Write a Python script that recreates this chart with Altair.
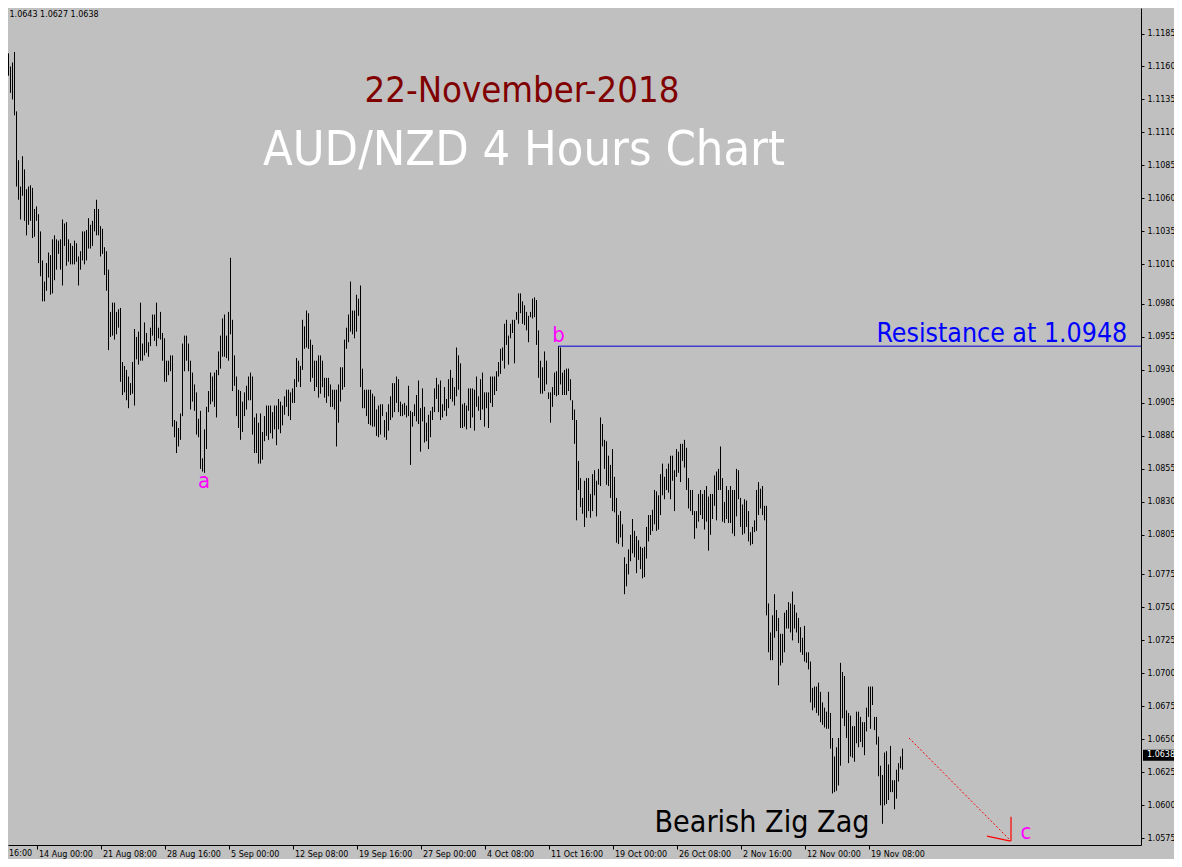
import json
import altair as alt
import pandas as pd

# ---- bar highs / lows (AUD/NZD, H4) ----
HIGH = [
    1.1125, 1.1145, 1.1170, 1.1164, 1.1170, 1.1160, 1.1163, 1.1171, 1.1126, 1.1089,
    1.1069, 1.1092, 1.1082, 1.1067, 1.1069, 1.1070, 1.1068, 1.1052, 1.1054, 1.1048,
    1.1035, 1.1013, 1.0997, 1.1011, 1.1019, 1.1017, 1.1029, 1.1032, 1.1029, 1.1028,
    1.1029, 1.1044, 1.1041, 1.1042, 1.1029, 1.1026, 1.1024, 1.1028, 1.1026, 1.1016,
    1.1020, 1.1035, 1.1035, 1.1036, 1.1045, 1.1040, 1.1043, 1.1052, 1.1059, 1.1052,
    1.1039, 1.1037, 1.1023, 1.1020, 1.1006, 1.0974, 1.0981, 1.0981, 1.0974, 1.0976,
    1.0977, 1.0936, 1.0933, 1.0930, 1.0925, 1.0920, 1.0936, 1.0961, 1.0955, 1.0959,
    1.0981, 1.0950, 1.0966, 1.0958, 1.0951, 1.0962, 1.0972, 1.0972, 1.0981, 1.0962,
    1.0974, 1.0958, 1.0954, 1.0937, 1.0937, 1.0941, 1.0941, 1.0892, 1.0891, 1.0886,
    1.0897, 1.0950, 1.0956, 1.0956, 1.0950, 1.0937, 1.0928, 1.0919, 1.0913, 1.0893,
    1.0899, 1.0863, 1.0885, 1.0902, 1.0914, 1.0928, 1.0925, 1.0928, 1.0930, 1.0944,
    1.0956, 1.0969, 1.0972, 1.0956, 1.0974, 1.1015, 1.0968, 1.0941, 1.0925, 1.0915,
    1.0914, 1.0906, 1.0913, 1.0918, 1.0925, 1.0928, 1.0925, 1.0894, 1.0897, 1.0890,
    1.0897, 1.0883, 1.0895, 1.0903, 1.0903, 1.0903, 1.0898, 1.0903, 1.0903, 1.0908,
    1.0906, 1.0903, 1.0910, 1.0915, 1.0915, 1.0913, 1.0916, 1.0923, 1.0939, 1.0937,
    1.0933, 1.0968, 1.0963, 1.0975, 1.0973, 1.0953, 1.0949, 1.0937, 1.0937, 1.0941,
    1.0941, 1.0937, 1.0924, 1.0924, 1.0924, 1.0919, 1.0915, 1.0915, 1.0915, 1.0919,
    1.0932, 1.0932, 1.0953, 1.0962, 1.0972, 1.0997, 1.0975, 1.0975, 1.0987, 1.0984,
    1.0994, 1.0931, 1.0915, 1.0915, 1.0915, 1.0915, 1.0912, 1.0910, 1.0900, 1.0903,
    1.0904, 1.0904, 1.0892, 1.0898, 1.0904, 1.0910, 1.0920, 1.0920, 1.0925, 1.0923,
    1.0906, 1.0904, 1.0905, 1.0903, 1.0918, 1.0899, 1.0898, 1.0904, 1.0911, 1.0922,
    1.0901, 1.0916, 1.0902, 1.0890, 1.0896, 1.0899, 1.0902, 1.0916, 1.0924, 1.0919,
    1.0922, 1.0904, 1.0917, 1.0908, 1.0923, 1.0930, 1.0924, 1.0917, 1.0947, 1.0941,
    1.0935, 1.0904, 1.0905, 1.0903, 1.0916, 1.0916, 1.0916, 1.0915, 1.0925, 1.0910,
    1.0923, 1.0928, 1.0913, 1.0913, 1.0913, 1.0925, 1.0925, 1.0925, 1.0929, 1.0936,
    1.0946, 1.0947, 1.0965, 1.0968, 1.0956, 1.0965, 1.0968, 1.0968, 1.0974, 1.0988,
    1.0988, 1.0982, 1.0979, 1.0974, 1.0971, 1.0974, 1.0984, 1.0985, 1.0983, 1.0960,
    1.0937, 1.0932, 1.0944, 1.0937, 1.0913, 1.0913, 1.0917, 1.0928, 1.0929, 1.0948,
    1.0947, 1.0928, 1.0930, 1.0931, 1.0931, 1.0923, 1.0907, 1.0900, 1.0892, 1.0861,
    1.0848, 1.0833, 1.0846, 1.0848, 1.0848, 1.0836, 1.0851, 1.0854, 1.0846, 1.0855,
    1.0894, 1.0889, 1.0877, 1.0876, 1.0865, 1.0858, 1.0870, 1.0849, 1.0833, 1.0820,
    1.0823, 1.0813, 1.0788, 1.0783, 1.0794, 1.0805, 1.0817, 1.0808, 1.0804, 1.0801,
    1.0796, 1.0795, 1.0796, 1.0811, 1.0820, 1.0820, 1.0824, 1.0839, 1.0838, 1.0835,
    1.0851, 1.0859, 1.0849, 1.0855, 1.0859, 1.0865, 1.0865, 1.0854, 1.0870, 1.0868,
    1.0874, 1.0874, 1.0877, 1.0871, 1.0848, 1.0839, 1.0839, 1.0823, 1.0823, 1.0836,
    1.0839, 1.0836, 1.0839, 1.0842, 1.0834, 1.0836, 1.0836, 1.0850, 1.0853, 1.0855,
    1.0872, 1.0848, 1.0830, 1.0842, 1.0839, 1.0842, 1.0839, 1.0839, 1.0855, 1.0854,
    1.0833, 1.0828, 1.0832, 1.0831, 1.0823, 1.0807, 1.0811, 1.0816, 1.0839, 1.0845,
    1.0840, 1.0842, 1.0827, 1.0827, 1.0753, 1.0731, 1.0744, 1.0760, 1.0748, 1.0742,
    1.0730, 1.0730, 1.0746, 1.0748, 1.0754, 1.0753, 1.0762, 1.0752, 1.0746, 1.0742,
    1.0735, 1.0727, 1.0736, 1.0716, 1.0716, 1.0709, 1.0689, 1.0690, 1.0690, 1.0693,
    1.0686, 1.0678, 1.0674, 1.0671, 1.0686, 1.0670, 1.0651, 1.0637, 1.0644, 1.0651,
    1.0708, 1.0701, 1.0698, 1.0672, 1.0670, 1.0668, 1.0660, 1.0660, 1.0671, 1.0671,
    1.0667, 1.0663, 1.0663, 1.0674, 1.0690, 1.0690, 1.0690, 1.0667, 1.0667, 1.0652,
    1.0630, 1.0623, 1.0640, 1.0641, 1.0631, 1.0645, 1.0619, 1.0619, 1.0627, 1.0632,
    1.0637, 1.0643,
]
LOW = [
    1.1008, 1.1118, 1.1129, 1.1140, 1.1153, 1.1140, 1.1135, 1.1123, 1.1069, 1.1059,
    1.1044, 1.1062, 1.1043, 1.1032, 1.1040, 1.1043, 1.1030, 1.1031, 1.1043, 1.1011,
    1.1001, 1.0982, 1.0982, 1.0990, 1.1000, 1.0987, 1.0988, 1.0998, 1.1006, 1.1018,
    1.1006, 1.0994, 1.1024, 1.1009, 1.1012, 1.1010, 1.1010, 1.1010, 1.1012, 1.0994,
    1.1006, 1.1013, 1.1010, 1.1013, 1.1022, 1.1022, 1.1024, 1.1035, 1.1032, 1.1032,
    1.1016, 1.1018, 1.1002, 1.0990, 1.0945, 1.0955, 1.0956, 1.0953, 1.0957, 1.0962,
    1.0921, 1.0911, 1.0913, 1.0907, 1.0901, 1.0911, 1.0912, 1.0903, 1.0938, 1.0934,
    1.0937, 1.0937, 1.0941, 1.0943, 1.0940, 1.0948, 1.0956, 1.0952, 1.0948, 1.0954,
    1.0953, 1.0937, 1.0921, 1.0921, 1.0926, 1.0929, 1.0887, 1.0879, 1.0867, 1.0872,
    1.0877, 1.0895, 1.0929, 1.0937, 1.0929, 1.0900, 1.0906, 1.0899, 1.0881, 1.0879,
    1.0855, 1.0853, 1.0852, 1.0870, 1.0898, 1.0904, 1.0906, 1.0902, 1.0894, 1.0926,
    1.0931, 1.0940, 1.0940, 1.0939, 1.0937, 1.0957, 1.0914, 1.0918, 1.0895, 1.0886,
    1.0877, 1.0883, 1.0895, 1.0900, 1.0907, 1.0907, 1.0881, 1.0867, 1.0867, 1.0859,
    1.0859, 1.0862, 1.0876, 1.0880, 1.0877, 1.0882, 1.0878, 1.0885, 1.0873, 1.0885,
    1.0882, 1.0888, 1.0896, 1.0902, 1.0895, 1.0892, 1.0905, 1.0905, 1.0917, 1.0921,
    1.0917, 1.0930, 1.0946, 1.0947, 1.0946, 1.0921, 1.0924, 1.0914, 1.0917, 1.0909,
    1.0912, 1.0917, 1.0909, 1.0905, 1.0910, 1.0902, 1.0902, 1.0900, 1.0872, 1.0890,
    1.0906, 1.0915, 1.0917, 1.0946, 1.0951, 1.0959, 1.0957, 1.0954, 1.0959, 1.0971,
    1.0917, 1.0901, 1.0901, 1.0895, 1.0889, 1.0888, 1.0887, 1.0887, 1.0880, 1.0879,
    1.0881, 1.0895, 1.0879, 1.0877, 1.0884, 1.0892, 1.0894, 1.0898, 1.0905, 1.0898,
    1.0895, 1.0895, 1.0896, 1.0894, 1.0895, 1.0858, 1.0887, 1.0895, 1.0891, 1.0889,
    1.0868, 1.0891, 1.0875, 1.0876, 1.0870, 1.0879, 1.0892, 1.0898, 1.0908, 1.0898,
    1.0892, 1.0894, 1.0899, 1.0895, 1.0901, 1.0908, 1.0906, 1.0903, 1.0910, 1.0915,
    1.0886, 1.0886, 1.0887, 1.0885, 1.0899, 1.0886, 1.0894, 1.0884, 1.0902, 1.0899,
    1.0892, 1.0900, 1.0887, 1.0901, 1.0886, 1.0905, 1.0902, 1.0911, 1.0914, 1.0925,
    1.0927, 1.0937, 1.0931, 1.0949, 1.0934, 1.0954, 1.0958, 1.0935, 1.0968, 1.0965,
    1.0973, 1.0965, 1.0964, 1.0960, 1.0951, 1.0970, 1.0969, 1.0970, 1.0949, 1.0924,
    1.0912, 1.0912, 1.0914, 1.0919, 1.0908, 1.0890, 1.0902, 1.0911, 1.0910, 1.0911,
    1.0919, 1.0911, 1.0911, 1.0911, 1.0914, 1.0907, 1.0892, 1.0874, 1.0816, 1.0839,
    1.0826, 1.0821, 1.0811, 1.0818, 1.0823, 1.0818, 1.0823, 1.0835, 1.0819, 1.0843,
    1.0842, 1.0872, 1.0855, 1.0843, 1.0842, 1.0833, 1.0823, 1.0822, 1.0799, 1.0798,
    1.0803, 1.0796, 1.0760, 1.0766, 1.0775, 1.0785, 1.0791, 1.0788, 1.0776, 1.0786,
    1.0779, 1.0772, 1.0773, 1.0787, 1.0800, 1.0805, 1.0808, 1.0813, 1.0808, 1.0809,
    1.0820, 1.0835, 1.0832, 1.0839, 1.0837, 1.0832, 1.0846, 1.0823, 1.0849, 1.0852,
    1.0845, 1.0861, 1.0856, 1.0839, 1.0825, 1.0823, 1.0820, 1.0802, 1.0810, 1.0815,
    1.0820, 1.0817, 1.0809, 1.0815, 1.0793, 1.0805, 1.0817, 1.0827, 1.0816, 1.0839,
    1.0839, 1.0815, 1.0814, 1.0817, 1.0814, 1.0814, 1.0806, 1.0804, 1.0819, 1.0832,
    1.0811, 1.0805, 1.0806, 1.0811, 1.0800, 1.0797, 1.0798, 1.0807, 1.0808, 1.0820,
    1.0825, 1.0820, 1.0816, 1.0744, 1.0716, 1.0710, 1.0710, 1.0727, 1.0732, 1.0691,
    1.0706, 1.0708, 1.0716, 1.0734, 1.0734, 1.0731, 1.0725, 1.0734, 1.0731, 1.0723,
    1.0716, 1.0714, 1.0709, 1.0708, 1.0703, 1.0678, 1.0672, 1.0674, 1.0670, 1.0668,
    1.0663, 1.0661, 1.0659, 1.0658, 1.0658, 1.0643, 1.0609, 1.0610, 1.0611, 1.0615,
    1.0630, 1.0666, 1.0660, 1.0651, 1.0632, 1.0637, 1.0636, 1.0633, 1.0647, 1.0644,
    1.0648, 1.0644, 1.0638, 1.0656, 1.0667, 1.0658, 1.0676, 1.0657, 1.0646, 1.0622,
    1.0600, 1.0586, 1.0600, 1.0601, 1.0604, 1.0610, 1.0610, 1.0597, 1.0605, 1.0618,
    1.0628, 1.0627,
]

# ---- axis ticks ----
DATE_TICK_BARS = [18, 50, 82, 114, 146, 178, 210, 242, 274, 306, 338, 370, 402, 434]
DATE_LABELS = [
    "14 Aug 00:00", "21 Aug 08:00", "28 Aug 16:00", "5 Sep 00:00", "12 Sep 08:00",
    "19 Sep 16:00", "27 Sep 00:00", "4 Oct 08:00", "11 Oct 16:00", "19 Oct 00:00",
    "26 Oct 08:00", "2 Nov 16:00", "12 Nov 00:00", "19 Nov 08:00",
]
PRICE_TICKS = [
    1.1185, 1.1160, 1.1135, 1.1110, 1.1085, 1.1060, 1.1035, 1.1010, 1.0980,
    1.0955, 1.0930, 1.0905, 1.0880, 1.0855, 1.0830, 1.0805, 1.0775, 1.0750,
    1.0725, 1.0700, 1.0675, 1.0650, 1.0625, 1.0600, 1.0575,
]
OHLC_TEXT = "1.0643 1.0627 1.0638"
LAST_PRICE = 1.0638
RESISTANCE = 1.0948
B_BAR = 279

bars = pd.DataFrame({"i": list(range(len(HIGH))), "high": HIGH, "low": LOW})

W, H = 1133, 837
X_DOM = [3.75, 570.25]
Y_DOM = [1.056992, 1.1204328]
xs = alt.Scale(domain=X_DOM, nice=False, zero=False)
ys = alt.Scale(domain=Y_DOM, nice=False, zero=False)

AX_FONT = "DejaVu Sans"
BIG_FONT = "'DejaVu Sans Condensed', 'DejaVu Sans'"

label_expr = json.dumps(DATE_LABELS) + "[round((datum.value - 18) / 32)]"


def xaxis():
    return alt.Axis(orient="bottom", values=DATE_TICK_BARS, labelExpr=label_expr, title="",
                    labelAlign="left", labelBaseline="top", labelPadding=1, labelOffset=2,
                    tickSize=4, labelOverlap=False, labelFlush=False)


def yaxis():
    return alt.Axis(orient="right", values=PRICE_TICKS, format=".4f", title="",
                    tickSize=3, labelPadding=3, labelOverlap=False, labelFlush=False)


def X(f):
    return alt.X(f, scale=xs, axis=xaxis())


def Y(f):
    return alt.Y(f, scale=ys, axis=yaxis())


bar_layer = alt.Chart(bars).mark_rule(color="black", strokeWidth=1, clip=True).encode(
    x=X("i:Q"), y=Y("low:Q"), y2="high:Q")

res_df = pd.DataFrame({"x": [B_BAR], "x2": [X_DOM[1]], "y": [RESISTANCE]})
res_line = alt.Chart(res_df).mark_rule(color="#0000D0", strokeWidth=1).encode(
    x=X("x:Q"), x2="x2:Q", y=Y("y:Q"))


def text_layer(df, **kw):
    return alt.Chart(df).mark_text(**kw).encode(x=X("x:Q"), y=Y("y:Q"), text="t:N")


t_date = text_layer(pd.DataFrame({"x": [260.75], "y": [1.11332], "t": ["22-November-2018"]}),
                    font=BIG_FONT, fontSize=36.2, color="#800000", align="center", baseline="alphabetic")
t_title = text_layer(pd.DataFrame({"x": [261.75], "y": [1.10853], "t": ["AUD/NZD 4 Hours Chart"]}),
                     font=BIG_FONT, fontSize=48.4, color="white", align="center", baseline="alphabetic")
t_res = text_layer(pd.DataFrame({"x": [563.4], "y": [1.09514], "t": ["Resistance at " + f"{RESISTANCE:.4f}"]}),
                   font=BIG_FONT, fontSize=26.5, color="#0000FF", align="right", baseline="alphabetic")
t_zig = text_layer(pd.DataFrame({"x": [380.75], "y": [1.05798], "t": ["Bearish Zig Zag"]}),
                   font=BIG_FONT, fontSize=30.2, color="black", align="center", baseline="alphabetic")
t_abc = text_layer(pd.DataFrame({"x": [101.75, 279.0, 512.75], "y": [1.08405, 1.09512, 1.05745],
                                 "t": ["a", "b", "c"]}),
                   font=BIG_FONT, fontSize=22, color="#FF00FF", align="center", baseline="alphabetic")
t_ohlc = text_layer(pd.DataFrame({"x": [4.5], "y": [1.11975], "t": [OHLC_TEXT]}),
                    font=AX_FONT, fontSize=8, color="black", align="left", baseline="alphabetic")
t_left = text_layer(pd.DataFrame({"x": [4.25], "y": [1.05631], "t": ["16:00"]}),
                    font=AX_FONT, fontSize=8, color="black", align="left", baseline="middle")

# red dashed projection and arrow head
proj = pd.DataFrame({"x": [454.25], "x2": [505.25], "y": [1.0651], "y2": [1.05729]})
proj_line = alt.Chart(proj).mark_rule(color="red", strokeWidth=1, strokeDash=[2, 2]).encode(
    x=X("x:Q"), x2="x2:Q", y=Y("y:Q"), y2="y2:Q")
head = pd.DataFrame({"x": [505.25, 493.25], "x2": [505.25, 505.0],
                     "y": [1.05914, 1.05767], "y2": [1.05729, 1.05729]})
head_lines = alt.Chart(head).mark_rule(color="red", strokeWidth=1.2).encode(
    x=X("x:Q"), x2="x2:Q", y=Y("y:Q"), y2="y2:Q")

# current price tag on the price axis
tag = pd.DataFrame({"x": [571.25], "x2": [590.25], "y": [LAST_PRICE + 0.00042], "y2": [LAST_PRICE - 0.00042]})
tag_rect = alt.Chart(tag).mark_rect(color="black").encode(
    x=X("x:Q"), x2="x2:Q", y=Y("y:Q"), y2="y2:Q")
tag_text = text_layer(pd.DataFrame({"x": [573.25], "y": [LAST_PRICE], "t": [f"{LAST_PRICE:.4f}"]}),
                      font=AX_FONT, fontSize=8, color="white", align="left", baseline="middle")

chart = alt.layer(
    bar_layer, res_line, proj_line, head_lines,
    t_date, t_title, t_res, t_zig, t_abc, t_ohlc, t_left, tag_rect, tag_text,
).properties(
    width=W, height=H,
    padding={"left": 0, "top": 0, "right": 33, "bottom": 14},
    autosize=alt.AutoSizeParams(type="none"),
    background="#C0C0C0",
).configure_view(
    stroke="transparent"
).configure_axis(
    grid=False, domainColor="black", domainWidth=1, tickColor="black", tickWidth=1,
    labelFont=AX_FONT, labelFontSize=8, labelColor="black",
    labelOverlap=False, labelFlush=False,
)

chart.save("out.html", embed_options={"renderer": "svg", "actions": False})
